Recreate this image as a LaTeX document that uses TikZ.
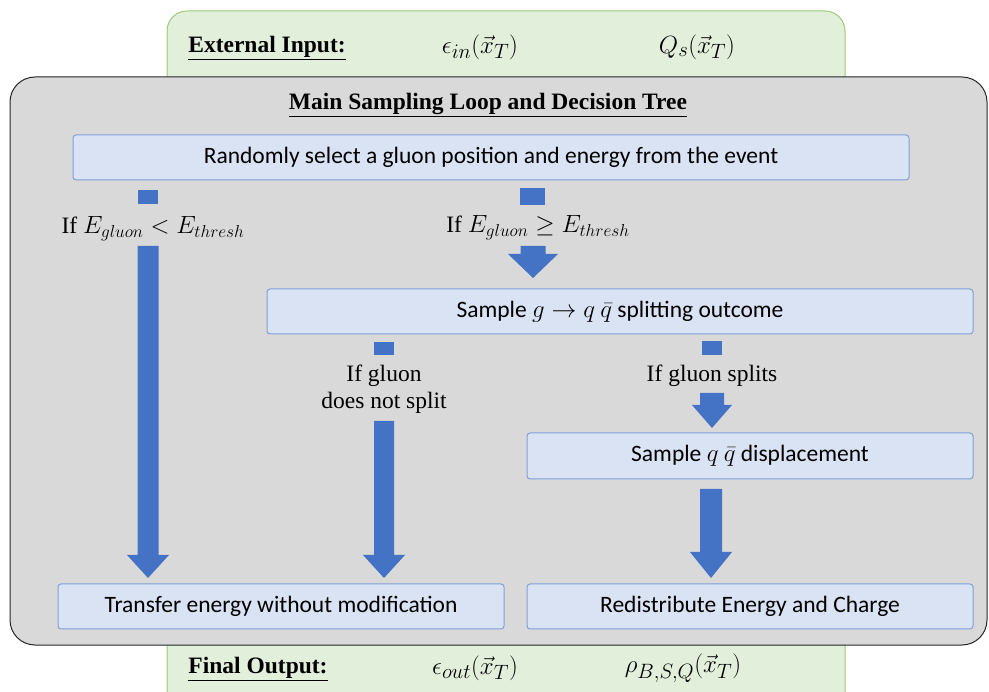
\documentclass[tikz,border=0pt]{standalone}
\usepackage{fontspec}
\setmainfont{Liberation Serif}
\newfontfamily\boxfont{Carlito}
\definecolor{blk}{HTML}{4472C4}
\definecolor{boxfill}{HTML}{DAE3F3}
\definecolor{boxline}{HTML}{7F9FD8}
\definecolor{grayfill}{HTML}{D9D9D9}
\definecolor{grayline}{HTML}{262626}
\definecolor{greenfill}{HTML}{E2EFDA}
\definecolor{greenline}{HTML}{9BCB7A}
\newcommand{\myarrow}[6]{%
  \fill[blk] ({#1-#5},{#2}) -- ({#1+#5},{#2}) -- ({#1+#5},{#3}) -- ({#1+#6},{#3}) -- ({#1},{#4}) -- ({#1-#6},{#3}) -- ({#1-#5},{#3}) -- cycle;}
\tikzset{
  bx/.style={draw=boxline, line width=1pt, fill=boxfill, rounded corners=3pt, inner sep=0pt, font=\boxfont\fontsize{23.5}{28}\selectfont},
  lbl/.style={inner sep=0pt, font=\fontsize{23.5}{27}\selectfont, align=center},
  mth/.style={inner sep=0pt, font=\fontsize{28}{32}\selectfont},
  stub/.style={fill=blk},
}
\begin{document}
\begin{tikzpicture}[x=1pt,y=-1pt]
\useasboundingbox (0,0) rectangle (989,692);
\clip (0,0) rectangle (989,692);
% green boxes
\draw[greenline, fill=greenfill, line width=1pt, rounded corners=20pt] (167,11) rectangle (845,150);
\draw[greenline, fill=greenfill, line width=1pt, rounded corners=20pt] (167,590) rectangle (845,730);
% gray main box
\draw[grayline, fill=grayfill, line width=1pt, rounded corners=25pt] (10,77) rectangle (987,645);
% texts top
\node[lbl] (extin) at (267,48) {\underline{\textbf{External Input:}}};
\node[mth] (eps) at (480,47) {$\epsilon_{in}(\vec{x}_T)$};
\node[mth] (qs) at (697,47) {$Q_s(\vec{x}_T)$};
\node[lbl] (title) at (488,105) {\underline{\textbf{Main Sampling Loop and Decision Tree}}};
% boxes
\node[bx, minimum width=836pt, minimum height=45pt] (sel) at (491,157.5) {Randomly select a gluon position and energy from the event};
\node[bx, minimum width=706pt, minimum height=45pt] (split) at (620,311.5) {Sample $g\rightarrow q$ $\bar{q}$ splitting outcome};
\node[bx, minimum width=446pt, minimum height=46pt] (disp) at (750,456) {Sample $q$ $\bar{q}$ displacement};
\node[bx, minimum width=446pt, minimum height=45pt] (trans) at (281,606.5) {Transfer energy without modification};
\node[bx, minimum width=446pt, minimum height=45pt] (redis) at (750,606.5) {Redistribute Energy and Charge};
% stubs
\fill[stub] (138,190) rectangle (158,204);
\fill[stub] (520,188) rectangle (545,205);
\fill[stub] (374,342) rectangle (394,355);
\fill[stub] (702,341) rectangle (722,355);
% labels
\node[lbl] (lowE) at (153,229) {If $E_{gluon} < E_{thresh}$};
\node[lbl] (highE) at (538,228) {If $E_{gluon} \geq E_{thresh}$};
\node[lbl] (nosplit) at (384,389) {If gluon\\does not split};
\node[lbl] (splits) at (712,376) {If gluon splits};
% block arrows
\myarrow{148}{246}{555}{578}{10.5}{21}
\myarrow{533}{246}{254}{278}{12.5}{25}
\myarrow{384}{421}{555}{578}{10}{21}
\myarrow{712}{393}{405}{428}{12}{20}
\myarrow{711}{489}{552}{578}{11}{21}
% bottom texts
\node[lbl] (finout) at (258,669) {\underline{\textbf{Final Output:}}};
\node[mth] (epsout) at (475,668) {$\epsilon_{out}(\vec{x}_T)$};
\node[mth] (rho) at (683,668) {$\rho_{B,S,Q}(\vec{x}_T)$};
\end{tikzpicture}
\end{document}
